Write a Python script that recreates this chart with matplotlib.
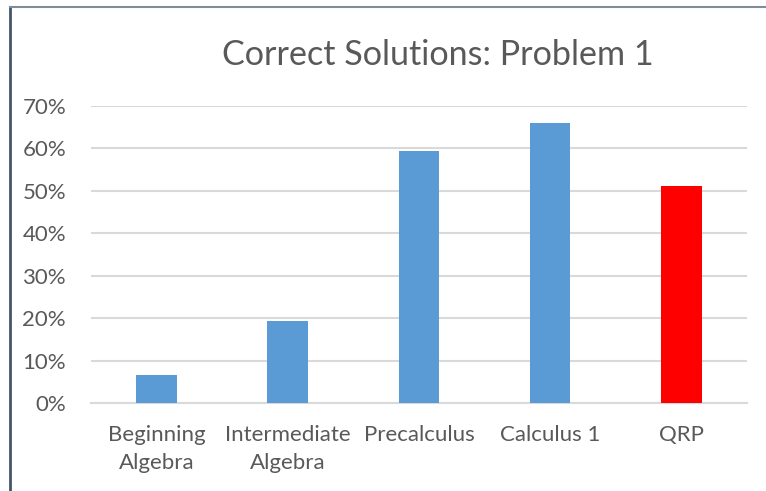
import matplotlib
matplotlib.use('Agg')
from matplotlib import pyplot as plt
from matplotlib.lines import Line2D
from matplotlib.ticker import PercentFormatter

categories = ['Beginning\nAlgebra', 'Intermediate\nAlgebra', 'Precalculus', 'Calculus 1', 'QRP']
values = [0.066, 0.193, 0.594, 0.659, 0.512]
colors = ['#5b9bd5', '#5b9bd5', '#5b9bd5', '#5b9bd5', '#ff0000']
yticks = [0, 0.1, 0.2, 0.3, 0.4, 0.5, 0.6, 0.7]

plt.rcParams['font.family'] = ['Lato', 'DejaVu Sans']
text_color = '#595959'
grid_color = '#d9d9d9'

fig = plt.figure(figsize=(7.66, 4.91), dpi=100)
ax = fig.add_axes([0.1188, 0.1792, 0.8562, 0.6048])

x = range(len(categories))
ax.bar(x, values, width=0.31, color=colors, zorder=3)

ax.set_xlim(-0.5, len(categories) - 0.5)
ax.set_ylim(0, 0.7)
ax.set_yticks(yticks)
ax.yaxis.set_major_formatter(PercentFormatter(1.0, decimals=0))
ax.set_xticks(list(x))
ax.set_xticklabels(categories)
ax.yaxis.grid(True, color=grid_color, linewidth=1.5, zorder=0)

for side in ['top', 'right', 'left']:
    ax.spines[side].set_visible(False)
ax.spines['bottom'].set_color(grid_color)
ax.spines['bottom'].set_linewidth(1.5)
ax.tick_params(axis='both', length=0, labelsize=16, labelcolor=text_color)
ax.tick_params(axis='y', pad=18)
ax.tick_params(axis='x', pad=16)
for lbl in ax.get_xticklabels():
    lbl.set_linespacing(1.5)

fig.text(0.572, 0.888, 'Correct Solutions: Problem 1', ha='center', va='center',
         fontsize=24.6, color=text_color)

# chart frame edges
fig.add_artist(Line2D([10 / 766, 10 / 766], [0, 1 - 7 / 491], color='#44546a', linewidth=2))
fig.add_artist(Line2D([10 / 766, 1], [1 - 7 / 491, 1 - 7 / 491], color='#7f8c9c', linewidth=1.5))

fig.savefig('out.png', dpi=100)
